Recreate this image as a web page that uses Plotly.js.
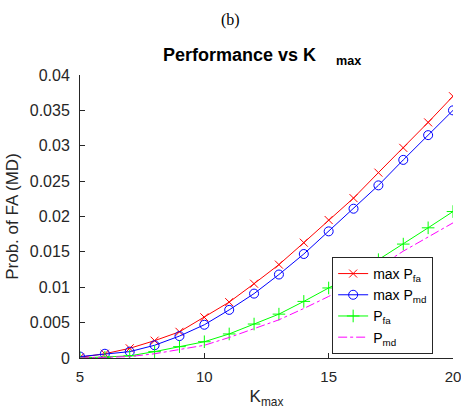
<!DOCTYPE html>
<html>
<head>
<meta charset="utf-8">
<script src="https://cdn.plot.ly/plotly-3.0.1.min.js"></script>
<style>html,body{margin:0;padding:0;background:#fff;}#chart{width:461px;height:409px;}</style>
</head>
<body>
<div id="chart"></div>
<script>
const K = [5, 6, 7, 8, 9, 10, 11, 12, 13, 14, 15, 16, 17, 18, 19, 20];
const maxPfa = [0.0001, 0.0006, 0.00137, 0.00245, 0.0037, 0.00575, 0.0079, 0.0105, 0.0132, 0.0163, 0.0195, 0.0226, 0.0262, 0.0297, 0.0333, 0.0370];
const maxPmd = [0.0002, 0.0006, 0.0009, 0.0018, 0.0031, 0.0047, 0.0068, 0.0091, 0.0118, 0.0147, 0.0179, 0.0211, 0.0244, 0.0280, 0.0315, 0.0350];
const Pfa = [0, 0.0001, 0.0003, 0.0009, 0.0016, 0.0023, 0.0034, 0.0048, 0.0062, 0.0080, 0.0099, 0.0118, 0.0139, 0.0161, 0.0184, 0.0207];
const Pmd = [0, 0.0001, 0.0002, 0.0006, 0.0012, 0.0018, 0.0029, 0.0041, 0.0054, 0.0070, 0.0087, 0.0106, 0.0128, 0.0151, 0.0171, 0.0191];
const seriesNames = ['max P<sub>fa</sub>', 'max P<sub>md</sub>', 'P<sub>fa</sub>', 'P<sub>md</sub>'];
const xTickVals = [5, 10, 15, 20];
const xTickText = ['5', '10', '15', '20'];
const yTickVals = [0, 0.005, 0.01, 0.015, 0.02, 0.025, 0.03, 0.035, 0.04];
const yTickText = ['0', '0.005', '0.01', '0.015', '0.02', '0.025', '0.03', '0.035', '0.04'];

const FONT = 'Liberation Sans, Arial, Helvetica, sans-serif';
const AX = '#262626';

const traces = [
  {x: K, y: maxPfa, name: seriesNames[0], mode: 'lines+markers',
   line: {color: '#ff0000', width: 1},
   marker: {symbol: 'x-thin-open', size: 8, color: '#ff0000', line: {color: '#ff0000', width: 1}}},
  {x: K, y: maxPmd, name: seriesNames[1], mode: 'lines+markers',
   line: {color: '#0000ff', width: 1},
   marker: {symbol: 'circle-open', size: 9, color: '#0000ff', line: {color: '#0000ff', width: 1}}},
  {x: K, y: Pfa, name: seriesNames[2], mode: 'lines+markers',
   line: {color: '#00ff00', width: 1},
   marker: {symbol: 'cross-thin-open', size: 9, color: '#00ff00', line: {color: '#00ff00', width: 1}}},
  {x: K, y: Pmd, name: seriesNames[3], mode: 'lines',
   line: {color: '#ff00ff', width: 1, dash: 'dashdot'}}
];

const layout = {
  width: 461, height: 409,
  margin: {l: 80, r: 8, t: 75, b: 51},
  paper_bgcolor: '#ffffff', plot_bgcolor: '#ffffff',
  font: {family: FONT, color: AX, size: 16},
  showlegend: true,
  title: {text: '<b>Performance vs K&nbsp;&nbsp;&nbsp;&nbsp;<sub>max</sub></b>', font: {family: FONT, size: 18, color: '#000'},
          x: 163 / 461, xref: 'container', xanchor: 'left', y: 1 - 55 / 409, yref: 'container', yanchor: 'middle'},
  xaxis: {range: [5, 20], tickvals: xTickVals, ticktext: xTickText, ticks: 'inside', ticklen: 5, tickcolor: AX,
          showline: true, linecolor: AX, linewidth: 1, showgrid: false, zeroline: false, mirror: false,
          ticklabeloverflow: 'allow', automargin: false,
          tickfont: {size: 15, color: AX, family: FONT}, ticklabelstandoff: 5,
          title: {text: 'K<sub>max</sub>', font: {size: 17, color: AX, family: FONT}, standoff: 6}},
  yaxis: {range: [0, 0.04], tickvals: yTickVals, ticktext: yTickText, ticks: 'inside', ticklen: 5, tickcolor: AX,
          showline: true, linecolor: AX, linewidth: 1, showgrid: false, zeroline: false, mirror: false,
          ticklabeloverflow: 'allow', automargin: false,
          tickfont: {size: 16, color: AX, family: FONT}, ticklabelstandoff: 6,
          title: {text: 'Prob. of FA (MD)', font: {size: 17, color: AX, family: FONT}, standoff: 6}},
  legend: {x: 0.676, y: 0.357, xanchor: 'left', yanchor: 'top', bgcolor: '#ffffff', bordercolor: AX, borderwidth: 1,
           font: {size: 14, color: '#000', family: FONT}, tracegroupgap: 0},
  annotations: [
    {text: '(b)', xref: 'paper', yref: 'paper', x: (230 - 80) / 373, y: 1 + (75 - 20) / 283, xanchor: 'center', yanchor: 'middle',
     showarrow: false, font: {family: 'Liberation Serif, Times New Roman, serif', size: 16, color: '#000'}}
  ]
};

Plotly.newPlot('chart', traces, layout, {displayModeBar: false, staticPlot: true});
</script>
</body>
</html>
